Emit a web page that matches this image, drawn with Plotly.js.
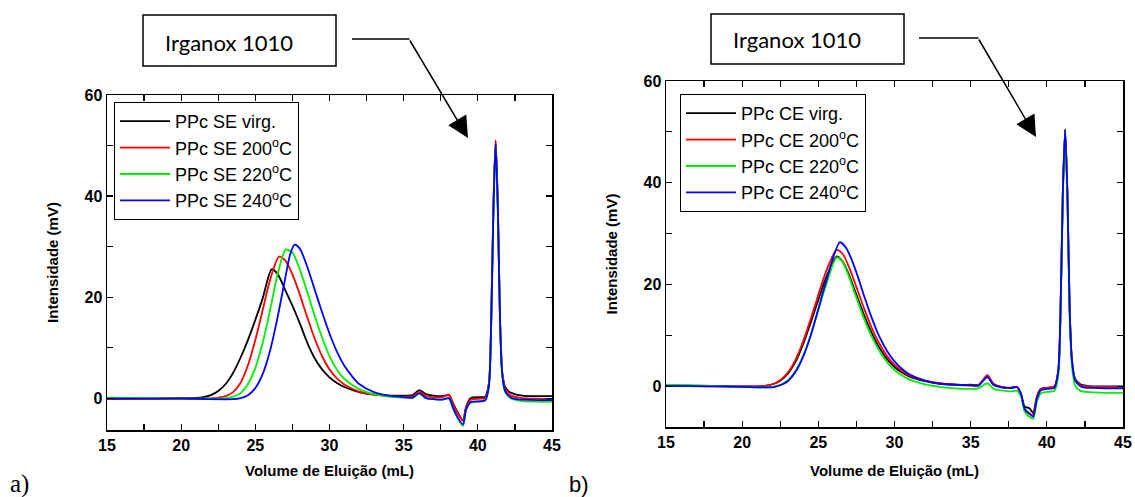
<!DOCTYPE html>
<html><head><meta charset="utf-8">
<script src="https://cdn.plot.ly/plotly-3.0.1.min.js"></script>
<style>html,body{margin:0;padding:0;background:#fff}#chart{width:1135px;height:497px}</style>
</head><body><div id="chart"></div>
<script>
// ---- Data: panel a) PPc SE ----
const seVirgX = [15,18,20,21,21.5,22,22.5,23,23.5,24,24.5,25,25.5,26.1,26.5,27,27.5,28,28.5,29,29.5,30,30.5,31,32,33,34,35,35.6,36.05,36.5,37,37.6,38.05,38.3,38.6,39.0,39.2,39.5,40.2,40.5,40.75,40.9,41.05,41.2,41.35,41.5,41.65,41.85,42.2,42.6,43,44,45];
const seVirgY = [-0.1,-0.1,0,0.05,0.2,0.6,1.4,2.8,5,8,11.5,15.5,19.8,25.5,24.6,21.5,18.3,14.8,11,7.9,5.7,4.1,3,2.2,1.2,0.7,0.5,0.5,0.6,1.6,0.8,0.5,0.4,0.6,-0.8,-2.6,-4.4,-1.8,0,0.2,0.3,3,15,38,51,38,15,5,2.2,1.1,0.7,0.5,0.4,0.4];
const se200X = [15,18,20,22,22.5,23,23.5,24,24.5,25,25.5,26,26.6,27,27.5,28,28.5,29,29.5,30,30.5,31,32,33,34,35,35.6,36.05,36.5,37,37.6,38.05,38.3,38.6,39.0,39.2,39.5,40.2,40.5,40.75,40.9,41.05,41.2,41.35,41.5,41.65,41.85,42.2,42.6,43,44,45];
const se200Y = [-0.2,-0.1,-0.1,-0.05,0.1,0.4,1.2,3,6.5,11.5,17.5,23.5,28,27.3,24.5,20.5,16,11.8,8.3,5.7,3.9,2.7,1.3,0.7,0.4,0.3,0.3,1.3,0.4,0.2,0.2,0.7,-1,-2.8,-4.5,-2,-0.3,-0.1,0,3,15,38,51,38,15,5,1.8,0.6,0.2,0,-0.1,-0.2];
const se220X = [15,18,20,23,23.5,24,24.5,25,25.5,26,26.5,27.05,27.5,28,28.5,29,29.5,30,30.5,31,32,33,34,35,35.6,36.05,36.5,37,37.6,38.05,38.3,38.6,39.0,39.2,39.5,40.2,40.5,40.75,40.9,41.05,41.2,41.35,41.5,41.65,41.85,42.2,42.6,43,44,45];
const se220Y = [0.1,0,-0.1,0,0.3,1,2.8,6,11,17.5,24.5,29.4,28.8,25.5,21,16.3,12,8.3,5.6,3.8,1.8,0.8,0.3,0.1,0,0.9,0,-0.2,-0.3,0,-1.8,-3.8,-5.5,-2.5,-0.9,-0.7,-0.5,2.5,15,37,50,37,15,4.5,1.2,0,-0.4,-0.6,-0.7,-0.7];
const se240X = [15,18,20,23.5,24,24.5,25,25.5,26,26.5,27,27.35,27.65,28,28.5,29,29.5,30,30.5,31,31.5,32,33,34,35,35.6,36.05,36.5,37,37.6,38.05,38.3,38.6,39.0,39.2,39.5,40.2,40.5,40.75,40.9,41.05,41.2,41.35,41.5,41.65,41.85,42.2,42.6,43,44,45];
const se240Y = [-0.1,-0.1,-0.1,-0.2,0,0.6,2,4.8,9.5,16,23.5,28.5,30.4,29.6,26,21.5,17,12.8,9.2,6.4,4.4,2.8,1.2,0.5,0.2,0.1,1,0,-0.2,-0.3,0,-1.7,-3.6,-5.2,-2.3,-0.8,-0.6,-0.4,2.5,15,37,50.3,37,15,4.5,1.3,0.2,-0.2,-0.3,-0.4,-0.4];

// ---- Data: panel b) PPc CE ----
const ceX = [15,18,20,21,21.5,22,22.5,23,23.5,24,24.5,25,25.5,26.2,26.6,27,27.5,28,28.5,29,29.5,30,30.5,31,32,33,34,35,35.5,36.1,36.5,37,37.6,38.05,38.3,38.55,38.85,39.1,39.35,39.6,40,40.5,40.75,40.9,41.05,41.2,41.35,41.5,41.65,41.85,42.2,42.6,43,44,45];
const ceVirgY = [0.2,0.1,0,0,0.1,0.4,1.1,2.5,4.8,8.3,12.5,17,21.3,25.5,24.5,22,18,14,10.5,7.6,5.4,3.8,2.7,1.9,1,0.5,0.3,0.3,0.3,1.8,0.3,-0.1,-0.3,-0.2,-1.5,-4,-4.3,-5.2,-2,-0.5,-0.3,0,3,15,38,50.5,38,15,5,1.5,0.4,0.1,0,0,0];
const ce200Y = [0.1,0,0,0,0.1,0.4,1.2,2.7,5.2,8.8,13.2,18,22.5,26.8,26,23.5,19.5,15.3,11.5,8.4,6,4.2,3,2.1,1.1,0.6,0.3,0.2,0.2,2.2,0.5,-0.1,-0.3,-0.1,-1.5,-4.5,-5.5,-5.5,-2.2,-0.6,-0.3,0,3,15,38,50,38,15,5,1.3,0.2,0,-0.1,-0.1,-0.1];
const ce220Y = [0.3,0.1,-0.1,-0.2,-0.2,-0.1,0.3,1.2,3,6,10,15,19.8,25.3,24.4,21.6,17.4,13.3,9.8,7,4.8,3.2,2.1,1.3,0.4,-0.1,-0.4,-0.5,-0.4,0.6,-0.5,-0.8,-1,-0.9,-2,-5,-6,-6.4,-3,-1.4,-1.1,-0.9,2,14,37,50,37,14,4,0.2,-0.9,-1.1,-1.2,-1.3,-1.3];
const ce240X = [15,18,20,21,21.5,22,22.5,23,23.5,24,24.5,25,25.5,26.4,26.8,27.2,27.6,28,28.5,29,29.5,30,30.5,31,32,33,34,35,35.5,36.1,36.5,37,37.6,38.05,38.3,38.55,38.85,39.1,39.35,39.6,40,40.5,40.75,40.9,41.05,41.2,41.35,41.5,41.65,41.85,42.2,42.6,43,44,45];
const ce240Y = [0.1,0,-0.1,-0.2,-0.2,-0.2,0.2,1,2.8,5.8,10,15.2,20.5,28.3,27.3,24.8,21.5,17.8,13.5,9.8,7,4.9,3.4,2.3,1.1,0.5,0.3,0.2,0.1,1.9,0.3,-0.2,-0.3,-0.2,-1.5,-4.5,-5.3,-6,-2.5,-0.8,-0.5,-0.3,3,15,38,50.5,38,15,5,1.2,0,-0.3,-0.3,-0.4,-0.4];

const seNames = ['PPc SE virg.','PPc SE 200<sup>o</sup>C','PPc SE 220<sup>o</sup>C','PPc SE 240<sup>o</sup>C'];
const ceNames = ['PPc CE virg.','PPc CE 200<sup>o</sup>C','PPc CE 220<sup>o</sup>C','PPc CE 240<sup>o</sup>C'];
const colors = ['#000000','#ff0000','#00ee00','#0000ff'];
const calloutText = 'Irganox 1010';

const W = 1135, H = 497;
const px = v => v / W;
const py = v => 1 - v / H;

const seData = [[seVirgX,seVirgY],[se200X,se200Y],[se220X,se220Y],[se240X,se240Y]];
const ceData = [[ceX,ceVirgY],[ceX,ce200Y],[ceX,ce220Y],[ce240X,ce240Y]];

const traces = [];
seData.forEach((d,i) => traces.push({x:d[0], y:d[1], name:seNames[i], type:'scatter', mode:'lines',
  line:{color:colors[i], width:1.8, shape:'spline', smoothing:0.7}, xaxis:'x', yaxis:'y', legend:'legend'}));
ceData.forEach((d,i) => traces.push({x:d[0], y:d[1], name:ceNames[i], type:'scatter', mode:'lines',
  line:{color:colors[i], width:1.8, shape:'spline', smoothing:0.7}, xaxis:'x2', yaxis:'y2', legend:'legend2'}));

const tickFont = {family:'Liberation Sans, Arial, sans-serif', size:16, color:'#000', weight:700};
const titleFont = {family:'Liberation Sans, Arial, sans-serif', size:15, color:'#000', weight:700};
function ax(extra){
  return Object.assign({showline:true, linecolor:'#000', linewidth:1.5, mirror:'ticks', ticks:'inside',
    ticklen:6, tickwidth:1.2, tickcolor:'#000', showgrid:false, zeroline:false, automargin:false,
    tickfont:tickFont, fixedrange:true}, extra);
}
const legendBase = {xanchor:'left', yanchor:'top', bgcolor:'#fff', bordercolor:'#000', borderwidth:1,
  font:{family:'Liberation Sans, Arial, sans-serif', size:18, color:'#000'}, itemwidth:50, tracegroupgap:0};

const boxFont = {family:'Lato, Open Sans, sans-serif', size:22, color:'#000'};
const layout = {
  width:W, height:H, margin:{l:0,r:0,t:0,b:0}, paper_bgcolor:'#fff', plot_bgcolor:'#fff', showlegend:true,
  xaxis: ax({domain:[px(107),px(552)], range:[15,45], tick0:15, dtick:5, anchor:'y',
    minor:{dtick:2.5, ticks:'inside', ticklen:6, tickwidth:1.2, tickcolor:'#000'},
    title:{text:'Volume de Eluição (mL)', font:titleFont, standoff:13}}),
  yaxis: ax({domain:[py(430),py(95)], range:[-6.3,60], tick0:0, dtick:20, anchor:'x',
    minor:{dtick:10, ticks:'inside', ticklen:6, tickwidth:1.2, tickcolor:'#000'},
    title:{text:'Intensidade (mV)', font:titleFont, standoff:22}}),
  xaxis2: ax({domain:[px(666),px(1123)], range:[15,45], tick0:15, dtick:5, anchor:'y2',
    minor:{dtick:2.5, ticks:'inside', ticklen:6, tickwidth:1.2, tickcolor:'#000'},
    title:{text:'Volume de Eluição (mL)', font:titleFont, standoff:16}}),
  yaxis2: ax({domain:[py(427),py(81)], range:[-8,60], tick0:0, dtick:20, anchor:'x2',
    minor:{dtick:10, ticks:'inside', ticklen:6, tickwidth:1.2, tickcolor:'#000'},
    title:{text:'Intensidade (mV)', font:titleFont, standoff:22}}),
  legend: Object.assign({x:px(114), y:py(102)}, legendBase),
  legend2: Object.assign({x:px(680), y:py(94)}, legendBase),
  shapes: [
    {type:'rect', xref:'paper', yref:'paper', x0:px(143), x1:px(336), y0:py(66), y1:py(15), line:{color:'#000', width:1.5}},
    {type:'rect', xref:'paper', yref:'paper', x0:px(711), x1:px(904), y0:py(64), y1:py(14), line:{color:'#000', width:1.5}},
    {type:'line', xref:'paper', yref:'paper', x0:px(352), x1:px(409.5), y0:py(39), y1:py(39), line:{color:'#000', width:1.5}},
    {type:'line', xref:'paper', yref:'paper', x0:px(919), x1:px(978.5), y0:py(38), y1:py(38), line:{color:'#000', width:1.5}}
  ],
  annotations: [
    {xref:'paper', yref:'paper', x:px(163), y:py(42), xanchor:'left', yanchor:'middle', text:calloutText, showarrow:false, font:boxFont},
    {xref:'paper', yref:'paper', x:px(731), y:py(40), xanchor:'left', yanchor:'middle', text:calloutText, showarrow:false, font:boxFont},
    {xref:'paper', yref:'paper', x:px(468), y:py(138), text:'', showarrow:true, arrowhead:2, arrowsize:2.8, arrowwidth:1.5, arrowcolor:'#000', ax:-59, ay:-99, standoff:0},
    {xref:'paper', yref:'paper', x:px(1036), y:py(137), text:'', showarrow:true, arrowhead:2, arrowsize:2.8, arrowwidth:1.5, arrowcolor:'#000', ax:-58, ay:-99, standoff:0},
    {xref:'paper', yref:'paper', x:px(8), y:py(484), xanchor:'left', yanchor:'middle', text:'a)', showarrow:false, font:{family:'Liberation Serif, Times New Roman, serif', size:25, color:'#000'}},
    {xref:'paper', yref:'paper', x:px(567), y:py(484), xanchor:'left', yanchor:'middle', text:'b)', showarrow:false, font:{family:'Liberation Sans, Arial, sans-serif', size:22, color:'#000'}}
  ]
};
Plotly.newPlot('chart', traces, layout, {displayModeBar:false, staticPlot:true});
</script></body></html>
